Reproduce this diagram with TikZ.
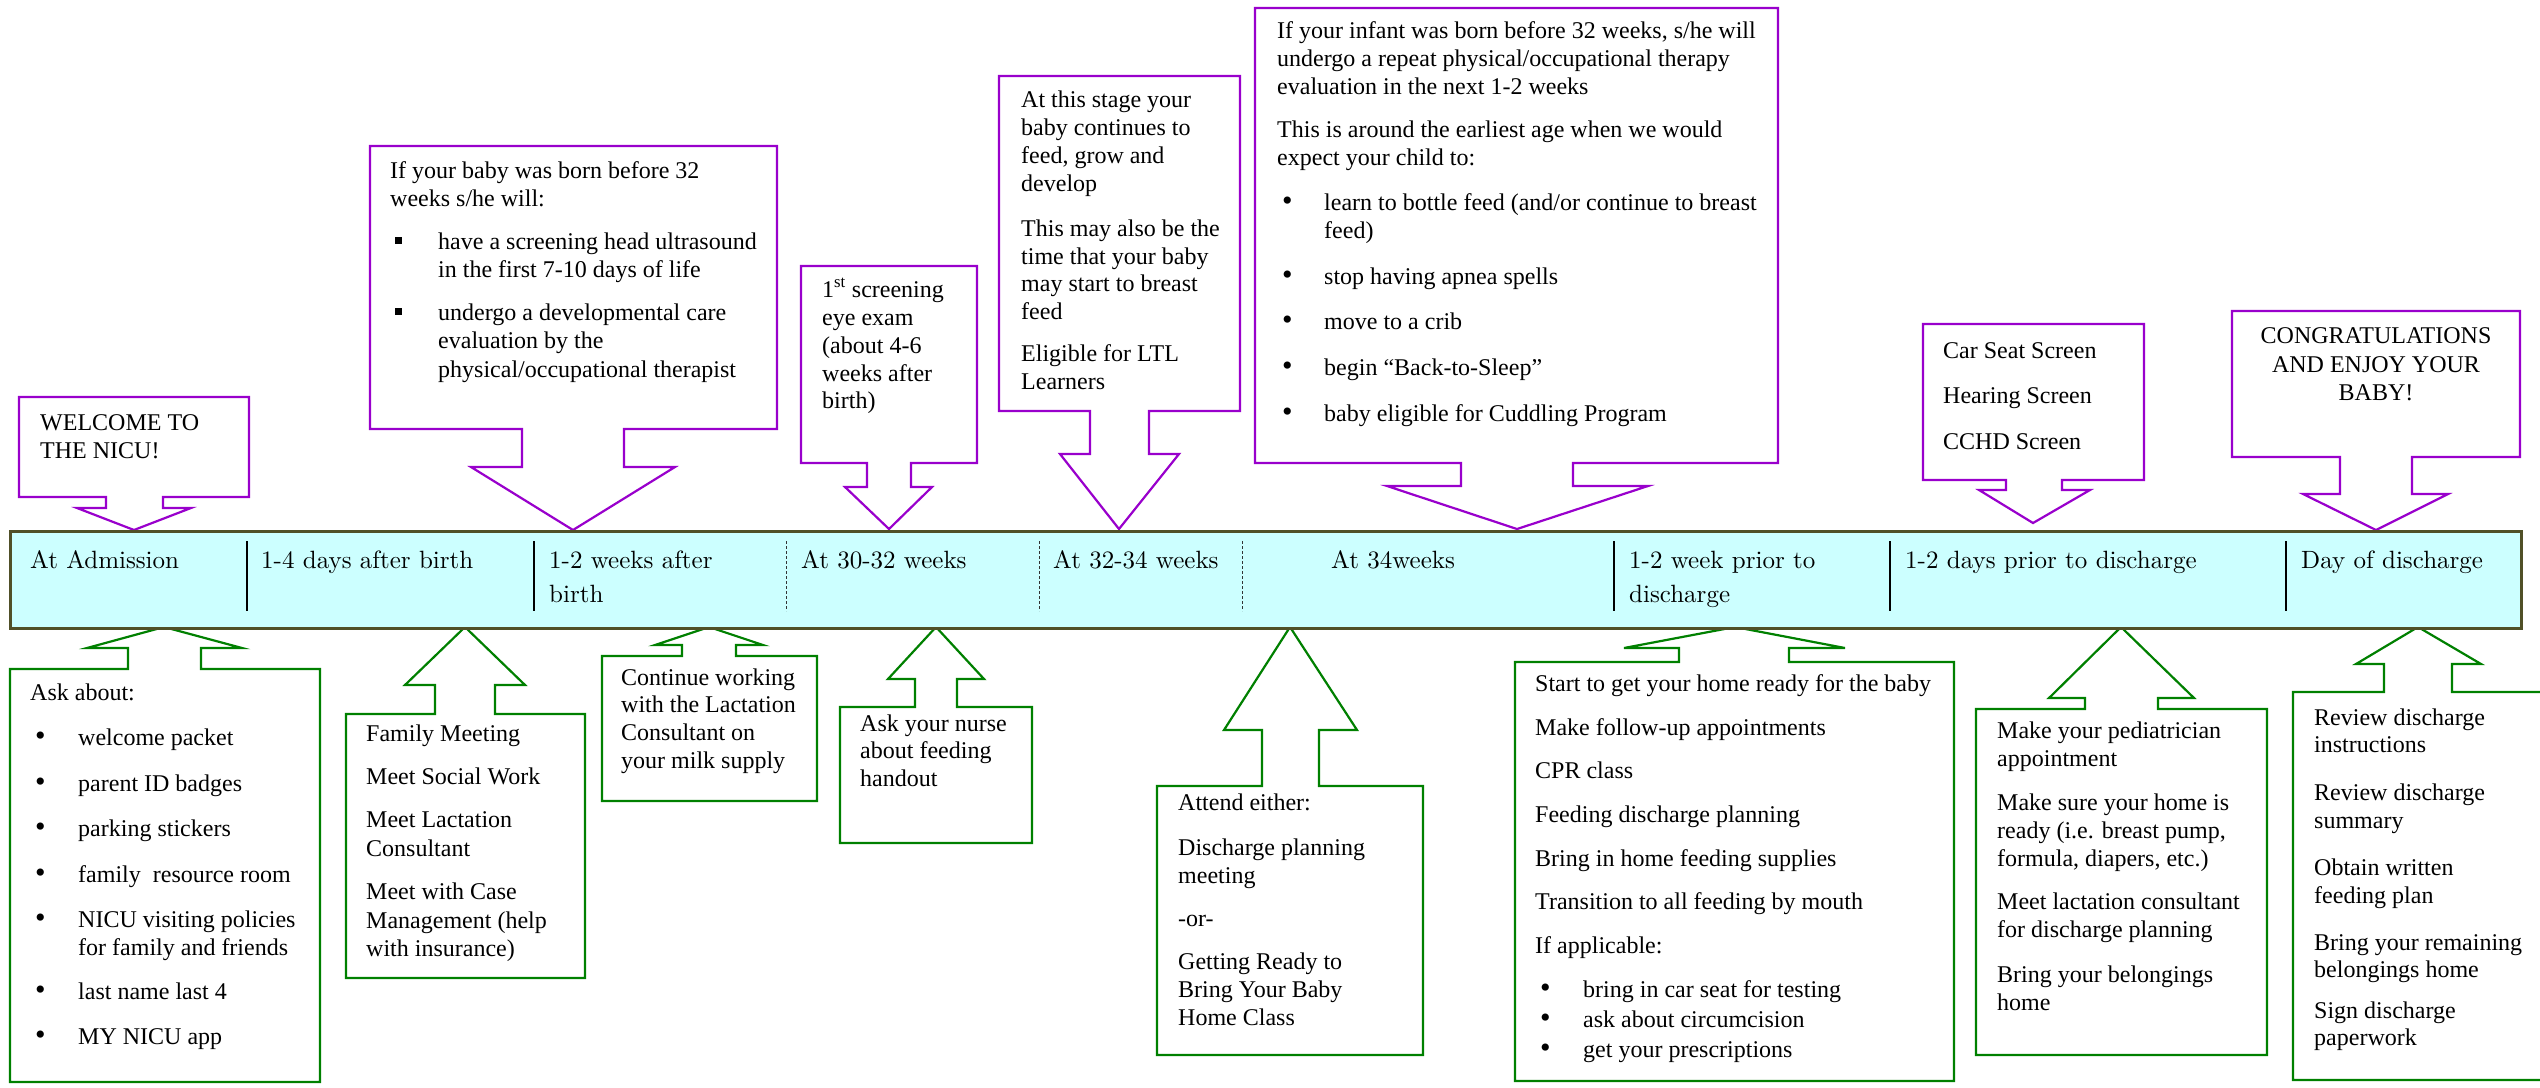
\documentclass[tikz,border=0pt]{standalone}
\usepackage{fontspec}
\setmainfont{Liberation Serif}
\newfontfamily\bandfam{lmroman10-regular}[Extension=.otf]
\newcommand\bandfont{\bandfam\fontsize{25}{34}\selectfont}
\newcommand\boxfont{\fontsize{24}{28}\selectfont}
\definecolor{callpurple}{RGB}{153,0,204}
\definecolor{callgreen}{RGB}{0,128,0}
\definecolor{bandfill}{RGB}{204,255,255}
\definecolor{bandedge}{RGB}{80,80,40}
\tikzset{
  txt/.style={inner sep=0pt, anchor=base west, font=\boxfont},
  ctxt/.style={inner sep=0pt, anchor=base, font=\boxfont},
  btxt/.style={inner sep=0pt, anchor=base west, font=\bandfont},
  topcall/.style={draw=callpurple, line width=2.2pt, fill=white, line join=miter},
  botcall/.style={draw=callgreen, line width=2.2pt, fill=white, line join=miter},
  bandbox/.style={draw=bandedge, line width=3pt, fill=bandfill},
  soliddiv/.style={draw=black, line width=2pt},
  dashdiv/.style={draw=black!80, line width=0.9pt, dash pattern=on 3pt off 2pt}
}
\newcommand\tline[4]{\node[txt] (#1) at (#2,#3) {#4};}
\newcommand\bline[5]{\node[txt] (#1b) at (#2,#4) {\scalebox{1.25}{\textbullet}}; \node[txt] (#1) at (#3,#4) {#5};}
\newcommand\sqline[5]{\node[txt] (#1b) at (#2,#4) {\raisebox{5pt}{\rule{6.5pt}{7pt}}}; \node[txt] (#1) at (#3,#4) {#5};}
\begin{document}
\begin{tikzpicture}[x=1pt,y=-1pt]
\clip (0,0) rectangle (2540,1087);
\fill[white] (0,0) rectangle (2540,1087);

% ---------- top callouts (purple) ----------
\draw[topcall] (19,397) -- (249,397) -- (249,497) -- (163,497) -- (163,508) -- (191,508) -- (134,530) -- (77,508) -- (106,508) -- (106,497) -- (19,497) -- cycle;
\draw[topcall] (370,146) -- (777,146) -- (777,429) -- (624,429) -- (624,467) -- (675,467) -- (573,530) -- (471,467) -- (522,467) -- (522,429) -- (370,429) -- cycle;
\draw[topcall] (801,266) -- (977,266) -- (977,463) -- (911,463) -- (911,487) -- (932,487) -- (889,529) -- (845,487) -- (867,487) -- (867,463) -- (801,463) -- cycle;
\draw[topcall] (999,76) -- (1240,76) -- (1240,411) -- (1149,411) -- (1149,454) -- (1179,454) -- (1119,529) -- (1060,454) -- (1090,454) -- (1090,411) -- (999,411) -- cycle;
\draw[topcall] (1255,8) -- (1778,8) -- (1778,463) -- (1573,463) -- (1573,486) -- (1648,486) -- (1517,529) -- (1387,486) -- (1461,486) -- (1461,463) -- (1255,463) -- cycle;
\draw[topcall] (1923,324) -- (2144,324) -- (2144,480) -- (2062,480) -- (2062,490) -- (2090,490) -- (2033,523) -- (1979,490) -- (2006,490) -- (2006,480) -- (1923,480) -- cycle;
\draw[topcall] (2232,311) -- (2520,311) -- (2520,457) -- (2412,457) -- (2412,494) -- (2448,494) -- (2376,530) -- (2303,494) -- (2340,494) -- (2340,457) -- (2232,457) -- cycle;

% ---------- bottom callouts (green) ----------
\draw[botcall] (10,1082) -- (320,1082) -- (320,669) -- (201,669) -- (201,648) -- (242,648) -- (164,627) -- (87,648) -- (128,648) -- (128,669) -- (10,669) -- cycle;
\draw[botcall] (346,978) -- (585,978) -- (585,714) -- (495,714) -- (495,685) -- (525,685) -- (465,627) -- (405,685) -- (435,685) -- (435,714) -- (346,714) -- cycle;
\draw[botcall] (602,801) -- (817,801) -- (817,656) -- (736,656) -- (736,645) -- (763,645) -- (709,627) -- (655,645) -- (682,645) -- (682,656) -- (602,656) -- cycle;
\draw[botcall] (840,843) -- (1032,843) -- (1032,707) -- (957,707) -- (957,679) -- (984,679) -- (936,627) -- (888,679) -- (915,679) -- (915,707) -- (840,707) -- cycle;
\draw[botcall] (1157,1055) -- (1423,1055) -- (1423,786) -- (1319,786) -- (1319,730) -- (1357,730) -- (1290,627) -- (1224,730) -- (1262,730) -- (1262,786) -- (1157,786) -- cycle;
\draw[botcall] (1515,1081) -- (1954,1081) -- (1954,662) -- (1789,662) -- (1789,648) -- (1845,648) -- (1735,627) -- (1624,648) -- (1679,648) -- (1679,662) -- (1515,662) -- cycle;
\draw[botcall] (1976,1055) -- (2267,1055) -- (2267,709) -- (2158,709) -- (2158,698) -- (2194,698) -- (2121,627) -- (2049,698) -- (2085,698) -- (2085,709) -- (1976,709) -- cycle;
\draw[botcall] (2293,1080) -- (2560,1080) -- (2560,692) -- (2452,692) -- (2452,664) -- (2481,664) -- (2418,627) -- (2356,664) -- (2384,664) -- (2384,692) -- (2293,692) -- cycle;

% ---------- timeline band ----------
\node[bandbox, inner sep=0pt, minimum width=2511pt, minimum height=97pt, anchor=north west] (band) at (9,530) {};
\foreach \x in {247,534,1614,1890,2286} \draw[soliddiv] (\x,541) -- (\x,611);
\foreach \x in {786,1039,1242} \draw[dashdiv] (\x,541) -- (\x,611);

\node[btxt] (b1) at (30,568) {At Admission};
\node[btxt] (b2) at (261,568) {1-4 days after birth};
\node[btxt] (b3) at (549,568) {1-2 weeks after};
\node[btxt] (b3b) at (549,602) {birth};
\node[btxt] (b4) at (801,568) {At 30-32 weeks};
\node[btxt] (b5) at (1053,568) {At 32-34 weeks};
\node[btxt] (b6) at (1331,568) {At 34weeks};
\node[btxt] (b7) at (1629,568) {1-2 week prior to};
\node[btxt] (b7b) at (1629,602) {discharge};
\node[btxt] (b8) at (1905,568) {1-2 days prior to discharge};
\node[btxt] (b9) at (2301,568) {Day of discharge};

% ---------- top texts ----------
\tline{w1}{40}{430}{WELCOME TO}
\tline{w2}{40}{458}{THE NICU!}

\tline{a1}{390}{178}{If your baby was born before 32}
\tline{a2}{390}{206}{weeks s/he will:}
\sqline{a3}{395}{438}{249}{have a screening head ultrasound}
\tline{a4}{438}{277}{in the first 7-10 days of life}
\sqline{a5}{395}{438}{320}{undergo a developmental care}
\tline{a6}{438}{348}{evaluation by the}
\tline{a7}{438}{377}{physical/occupational therapist}

\tline{e1}{822}{297}{1\textsuperscript{st} screening}
\tline{e2}{822}{325}{eye exam}
\tline{e3}{822}{353}{(about 4-6}
\tline{e4}{822}{381}{weeks after}
\tline{e5}{822}{408}{birth)}

\tline{l1}{1021}{107}{At this stage your}
\tline{l2}{1021}{135}{baby continues to}
\tline{l3}{1021}{163}{feed, grow and}
\tline{l4}{1021}{191}{develop}
\tline{l5}{1021}{236}{This may also be the}
\tline{l6}{1021}{264}{time that your baby}
\tline{l7}{1021}{291}{may start to breast}
\tline{l8}{1021}{319}{feed}
\tline{l9}{1021}{361}{Eligible for LTL}
\tline{l10}{1021}{389}{Learners}

\tline{f1}{1277}{38}{If your infant was born before 32 weeks, s/he will}
\tline{f2}{1277}{66}{undergo a repeat physical/occupational therapy}
\tline{f3}{1277}{94}{evaluation in the next 1-2 weeks}
\tline{f4}{1277}{137}{This is around the earliest age when we would}
\tline{f5}{1277}{165}{expect your child to:}
\bline{f6}{1282}{1324}{210}{learn to bottle feed (and/or continue to breast}
\tline{f7}{1324}{238}{feed)}
\bline{f8}{1282}{1324}{284}{stop having apnea spells}
\bline{f9}{1282}{1324}{329}{move to a crib}
\bline{f10}{1282}{1324}{375}{begin “Back-to-Sleep”}
\bline{f11}{1282}{1324}{421}{baby eligible for Cuddling Program}

\tline{c1}{1943}{358}{Car Seat Screen}
\tline{c2}{1943}{403}{Hearing Screen}
\tline{c3}{1943}{449}{CCHD Screen}

\node[ctxt] (g1) at (2376,343) {CONGRATULATIONS};
\node[ctxt] (g2) at (2376,372) {AND ENJOY YOUR};
\node[ctxt] (g3) at (2376,400) {BABY!};

% ---------- bottom texts ----------
\tline{k1}{30}{700}{Ask about:}
\bline{k2}{35}{78}{745}{welcome packet}
\bline{k3}{35}{78}{791}{parent ID badges}
\bline{k4}{35}{78}{836}{parking stickers}
\bline{k5}{35}{78}{882}{family\ \ resource room}
\bline{k6}{35}{78}{927}{NICU visiting policies}
\tline{k7}{78}{955}{for family and friends}
\bline{k8}{35}{78}{999}{last name last 4}
\bline{k9}{35}{78}{1044}{MY NICU app}

\tline{m1}{366}{741}{Family Meeting}
\tline{m2}{366}{784}{Meet Social Work}
\tline{m3}{366}{827}{Meet Lactation}
\tline{m4}{366}{856}{Consultant}
\tline{m5}{366}{899}{Meet with Case}
\tline{m6}{366}{928}{Management (help}
\tline{m7}{366}{956}{with insurance)}

\tline{n1}{621}{685}{Continue working}
\tline{n2}{621}{712}{with the Lactation}
\tline{n3}{621}{740}{Consultant on}
\tline{n4}{621}{768}{your milk supply}

\tline{r1}{860}{731}{Ask your nurse}
\tline{r2}{860}{758}{about feeding}
\tline{r3}{860}{786}{handout}

\tline{t1}{1178}{810}{Attend either:}
\tline{t2}{1178}{855}{Discharge planning}
\tline{t3}{1178}{883}{meeting}
\tline{t4}{1178}{926}{-or-}
\tline{t5}{1178}{969}{Getting Ready to}
\tline{t6}{1178}{997}{Bring Your Baby}
\tline{t7}{1178}{1025}{Home Class}

\tline{s1}{1535}{691}{Start to get your home ready for the baby}
\tline{s2}{1535}{735}{Make follow-up appointments}
\tline{s3}{1535}{778}{CPR class}
\tline{s4}{1535}{822}{Feeding discharge planning}
\tline{s5}{1535}{866}{Bring in home feeding supplies}
\tline{s6}{1535}{909}{Transition to all feeding by mouth}
\tline{s7}{1535}{953}{If applicable:}
\bline{s8}{1540}{1583}{997}{bring in car seat for testing}
\bline{s9}{1540}{1583}{1027}{ask about circumcision}
\bline{s10}{1540}{1583}{1057}{get your prescriptions}

\tline{p1}{1997}{738}{Make your pediatrician}
\tline{p2}{1997}{766}{appointment}
\tline{p3}{1997}{810}{Make sure your home is}
\tline{p4}{1997}{838}{ready (i.e. breast pump,}
\tline{p5}{1997}{866}{formula, diapers, etc.)}
\tline{p6}{1997}{909}{Meet lactation consultant}
\tline{p7}{1997}{937}{for discharge planning}
\tline{p8}{1997}{982}{Bring your belongings}
\tline{p9}{1997}{1010}{home}

\tline{v1}{2314}{725}{Review discharge}
\tline{v2}{2314}{752}{instructions}
\tline{v3}{2314}{800}{Review discharge}
\tline{v4}{2314}{828}{summary}
\tline{v5}{2314}{875}{Obtain written}
\tline{v6}{2314}{903}{feeding plan}
\tline{v7}{2314}{950}{Bring your remaining}
\tline{v8}{2314}{977}{belongings home}
\tline{v9}{2314}{1018}{Sign discharge}
\tline{v10}{2314}{1045}{paperwork}
\end{tikzpicture}
\end{document}
